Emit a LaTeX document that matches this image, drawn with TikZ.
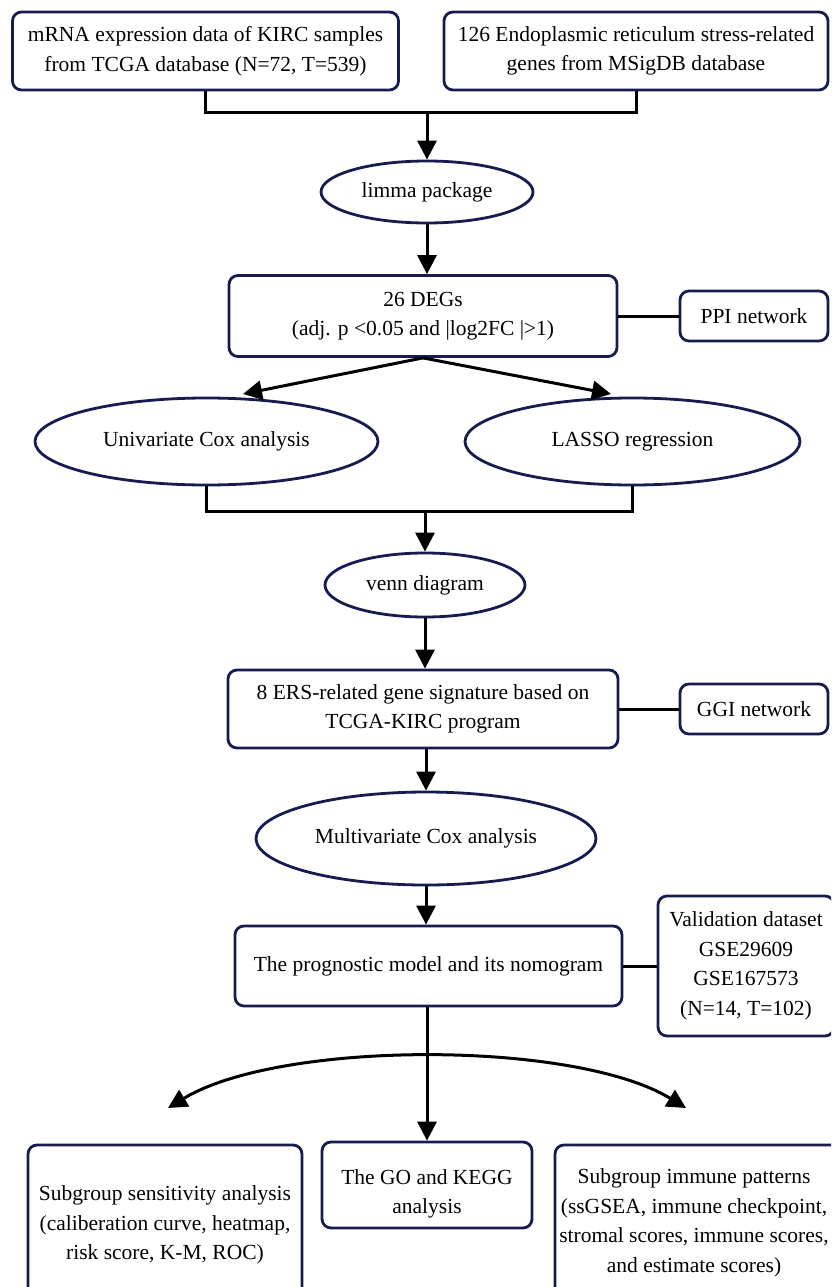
\documentclass[tikz,border=0pt]{standalone}
\usepackage{fontspec}
\setmainfont{Liberation Serif}
\usetikzlibrary{arrows.meta,shapes.geometric}
\definecolor{navy}{RGB}{22,28,80}
\begin{document}
\begin{tikzpicture}[x=1pt,y=-1pt,
  box/.style={draw=navy,line width=2.8pt,rounded corners=9pt,fill=white,align=center,inner sep=0pt},
  oval/.style={ellipse,draw=navy,line width=2.8pt,fill=white,align=center,inner sep=0pt},
  txt/.style={align=center,inner sep=0pt},
  conn/.style={line width=3pt,draw=black},
  arr/.style={conn,-{Triangle[length=19pt,width=19pt]}},
  dbl/.style={conn,{Triangle[length=19pt,width=19pt]}-{Triangle[length=19pt,width=19pt]}},
  font=\fontsize{21.5}{29.5}\selectfont]
\useasboundingbox (0,0) rectangle (831,1287);
\clip (0,0) rectangle (831,1287);
\fill[white] (0,0) rectangle (831,1287);

% top boxes
\node[box,minimum width=386pt,minimum height=78pt] (b1) at (205.5,51)
  {mRNA expression data of KIRC samples\\from TCGA database (N=72, T=539)};
\node[box,minimum width=384pt,minimum height=78pt] (b2) at (636,51)
  {126 Endoplasmic reticulum stress-related\\genes from MSigDB database};
\coordinate (j1) at (427,113);
\draw[conn] (b1.south) |- (j1) -| (b2.south);

\node[oval,minimum width=212pt,minimum height=62pt] (limma) at (427,192) {limma package};
\draw[arr] (j1) -- (limma.north);

\node[box,minimum width=388pt,minimum height=81pt] (deg) at (423,316)
  {26 DEGs\\(adj. p <0.05 and |log2FC |>1)};
\draw[arr] (limma.south) -- (limma.south |- deg.north);
\node[box,minimum width=148pt,minimum height=50pt] (ppi) at (754,316) {PPI network};
\draw[conn] (deg.east) -- (ppi.west);

\node[oval,minimum width=343pt,minimum height=87pt] (uni) at (206.5,441.5) {Univariate Cox analysis};
\node[oval,minimum width=335pt,minimum height=87pt] (lasso) at (632.5,441.5) {LASSO regression};
\coordinate (tL) at (243,394);
\coordinate (tR) at (611,394);
\draw[arr] (deg.south) -- (tL);
\draw[arr] (deg.south) -- (tR);

\coordinate (j2) at (425,511);
\draw[conn] (uni.south) |- (j2) -| (lasso.south);
\node[oval,minimum width=200pt,minimum height=64pt] (venn) at (425,585) {venn diagram};
\draw[arr] (j2) -- (venn.north);

\node[box,minimum width=390pt,minimum height=78pt] (ers) at (423,709)
  {8 ERS-related gene signature based on\\TCGA-KIRC program};
\draw[arr] (venn.south) -- (venn.south |- ers.north);
\node[box,minimum width=148pt,minimum height=50pt] (ggi) at (754,709) {GGI network};
\draw[conn] (ers.east) -- (ggi.west);

\node[oval,minimum width=340pt,minimum height=93pt] (multi) at (426,838.5) {Multivariate Cox analysis};
\draw[arr] (ers.south -| multi.south) -- (multi.north);

\node[box,minimum width=387pt,minimum height=80pt] (prog) at (428.5,966)
  {The prognostic model and its nomogram};
\draw[arr] (multi.south) -- (multi.south |- prog.north);
\node[box,minimum width=176pt,minimum height=140pt] (val) at (746,966)
  {Validation dataset\\GSE29609\\GSE167573\\(N=14, T=102)};
\draw[conn] (prog.east) -- (val.west);

% bottom
\node[box,minimum width=274pt,minimum height=160pt] (sub1) at (165,1225)
  {Subgroup sensitivity analysis\\(caliberation curve, heatmap,\\risk score, K-M, ROC)};
\node[box,minimum width=210pt,minimum height=86pt] (go) at (427,1185) {};
\node[txt] (gotext) at (427,1194) {The GO and KEGG\\analysis};
\node[box,minimum width=290pt,minimum height=160pt] (sub2) at (700,1225) {};
\node[txt] (sub2text) at (694,1223)
  {Subgroup immune patterns\\(ssGSEA, immune checkpoint,\\stromal scores, immune scores,\\and estimate scores)};
\draw[arr] (prog.south -| go.north) -- (go.north);
\coordinate (aL) at (168,1108);
\coordinate (aR) at (686,1108);
\draw[dbl] (aL) .. controls (280,1040) and (575,1040) .. (aR);
\end{tikzpicture}
\end{document}
